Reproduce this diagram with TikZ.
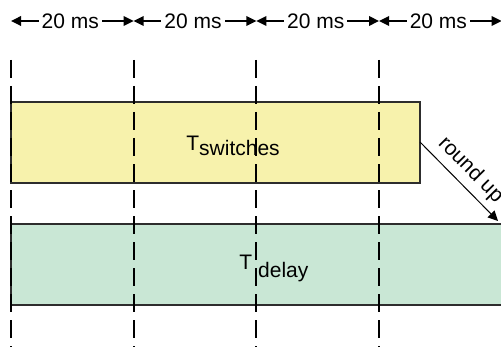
\documentclass[tikz,border=0pt]{standalone}
\usepackage{fontspec}
\setmainfont{Liberation Sans}
\usetikzlibrary{arrows.meta}

\definecolor{switchyellow}{RGB}{247,242,172}
\definecolor{delaygreen}{RGB}{201,231,213}
\definecolor{edgegray}{RGB}{45,45,45}

\begin{document}
\begin{tikzpicture}[
        x=0.5pt, y=-0.5pt,
        >={Triangle[length=5pt, width=4.8pt]},
        every node/.style={font=\fontsize{10.5}{12.6}\selectfont, inner sep=0pt},
        declare function={
            Left = 11;
            Step = 122.67;
            Top = 60;
            Bottom = 347;
        },
        gridline/.style={line width=1pt, dash pattern=on 9pt off 4pt},
        period/.style={<->, line width=0.75pt},
        slotedge/.style={draw=edgegray, line width=0.75pt},
    ]
    \useasboundingbox (0,0) rectangle (501,347);

    % switching slot
    \fill[switchyellow] (11,102) rectangle (420,183);
    \draw[slotedge] (11,102) rectangle (420,183);

    % delay slot, runs on past the right edge
    \fill[delaygreen] (11,224) rectangle (501,305);
    \draw[slotedge] (501,224) -- (11,224) -- (11,305) -- (501,305);

    \node[anchor=base west] (switches) at (186,150) {T\raisebox{-2.5pt}{switches}};
    \node[anchor=base west] (delay) at (239,269) {T\hspace{3pt}\raisebox{-4pt}{delay}};

    % frame boundaries
    \foreach \i in {0,1,...,4} {
        \coordinate (mark\i) at ({Left + Step * \i}, 21);
    }
    \foreach \i in {0,1,...,3} {
        \draw[gridline] ({Left + Step * \i}, Top) -- ({Left + Step * \i}, Bottom);
    }

    % 20 ms periods
    \foreach \i in {0,1,...,3} {
        \pgfmathtruncatemacro\next{\i + 1}
        \draw[period] (mark\i) -- (mark\next)
            node[midway, fill=white, inner xsep=1.5pt, xshift=-1pt] {20 ms};
    }

    % rounding to the next frame
    \coordinate (roundstart) at (420,142);
    \coordinate (roundend) at (498,221);
    \draw[->, line width=0.5pt] (roundstart) -- (roundend)
        node[midway, sloped, above=3pt] (roundup) {round up};
\end{tikzpicture}
\end{document}
